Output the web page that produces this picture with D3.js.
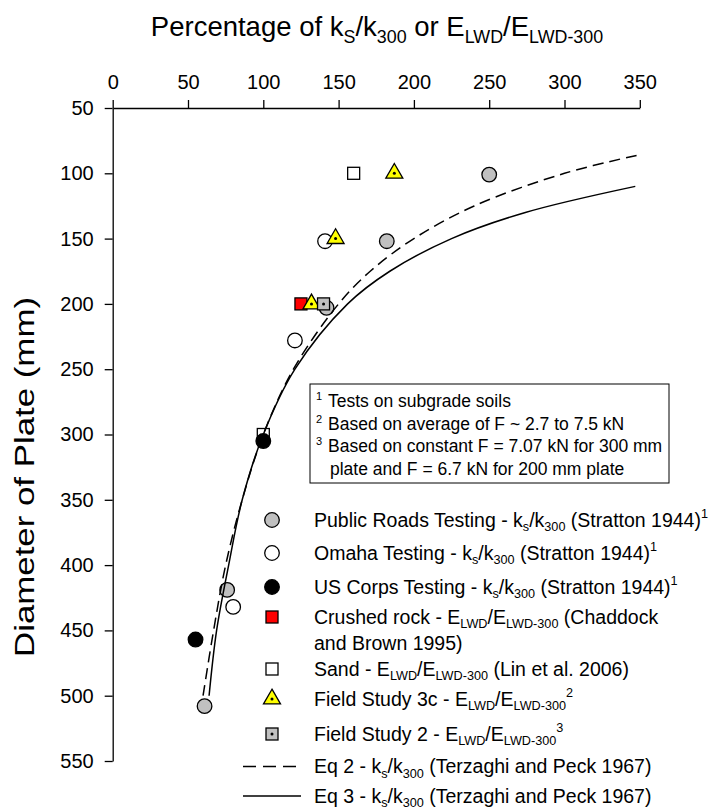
<!DOCTYPE html>
<head>
  <meta charset="utf-8" />
  <script src="https://d3js.org/d3.v7.min.js"></script>
  <style>
    body { margin: 0; background: #fff; }
    text { font-family: "Liberation Sans", Arial, sans-serif; fill: #000; white-space: pre; }
  </style>
</head>
<body>
<div id="chart"></div>
<script>
// points: [percentage, plate diameter mm]
var publicRoads = [[250, 101], [182, 152], [142, 203], [76, 419], [61, 508]];
var omaha = [[141, 152], [121, 228], [80, 432]];
var usCorps = [[100, 305], [55, 457]];
var crushedRock = [[125, 200]];
var sand = [[160, 100], [100, 300]];
var field3c = [[187, 100], [148, 150], [132, 200]];
var field2 = [[140, 200]];

// curves
var eq2Dia = [500, 450, 400, 350, 300, 250, 200, 175, 150, 125, 100, 86];
var eq2Pct = [60, 67, 75, 86, 100, 120, 150, 171, 200, 240, 300, 349];
var eq3Dia = [500, 450, 400, 350, 300, 250, 200, 175, 150, 130, 110];
var eq3Pct = [64, 69, 77, 86, 100, 121, 156, 184, 225, 274, 347];

var xTicks = [0, 50, 100, 150, 200, 250, 300, 350];
var yTicks = [50, 100, 150, 200, 250, 300, 350, 400, 450, 500, 550];

var notes = [
  ["1", "Tests on subgrade soils"],
  ["2", "Based on average of F ~ 2.7 to 7.5 kN"],
  ["3", "Based on constant F = 7.07 kN for 300 mm"],
  ["", "plate and F = 6.7 kN for 200 mm plate"]
];

var legendItems = [
  {sym: "grey", lines: [[["Public Roads Testing - k"], ["s", "sub"], ["/k"], ["300", "sub"], [" (Stratton 1944)"], ["1", "sup"]]]},
  {sym: "open", lines: [[["Omaha Testing - k"], ["s", "sub"], ["/k"], ["300", "sub"], [" (Stratton 1944)"], ["1", "sup"]]]},
  {sym: "black", lines: [[["US Corps Testing - k"], ["s", "sub"], ["/k"], ["300", "sub"], [" (Stratton 1944)"], ["1", "sup"]]]},
  {sym: "red", lines: [[["Crushed rock - E"], ["LWD", "sub"], ["/E"], ["LWD-300", "sub"], [" (Chaddock"]], [["and Brown 1995)"]]]},
  {sym: "sand", lines: [[["Sand - E"], ["LWD", "sub"], ["/E"], ["LWD-300", "sub"], [" (Lin et al. 2006)"]]]},
  {sym: "tri", lines: [[["Field Study 3c - E"], ["LWD", "sub"], ["/E"], ["LWD-300", "sub"], ["2", "sup"]]]},
  {sym: "dotsq", lines: [[["Field Study 2 - E"], ["LWD", "sub"], ["/E"], ["LWD-300", "sub"], ["3", "sup"]]]},
  {sym: "dash", lines: [[["Eq 2 - k"], ["s", "sub"], ["/k"], ["300", "sub"], [" (Terzaghi and Peck 1967)"]]]},
  {sym: "solid", lines: [[["Eq 3 - k"], ["s", "sub"], ["/k"], ["300", "sub"], [" (Terzaghi and Peck 1967)"]]]}
];

var W = 713, H = 809;
var svg = d3.select("#chart").append("svg").attr("width", W).attr("height", H);

var x = d3.scaleLinear().domain([0, 350]).range([112.7, 639.8]);
var y = d3.scaleLinear().domain([50, 550]).range([108, 761]);

// axes
var xAxis = svg.append("g")
  .attr("transform", "translate(0," + y(50) + ")")
  .call(d3.axisTop(x).tickValues(xTicks).tickSize(8).tickSizeOuter(0).tickPadding(11));
var yAxis = svg.append("g")
  .attr("transform", "translate(" + x(0) + ",0)")
  .call(d3.axisLeft(y).tickValues(yTicks).tickSize(8).tickSizeOuter(0).tickPadding(11));
[xAxis, yAxis].forEach(function(a) {
  a.selectAll("path, line").attr("stroke", "#000").attr("stroke-width", 1.3);
  a.selectAll("text").attr("font-size", 20).attr("font-family", "Liberation Sans, Arial, sans-serif").attr("fill", "#000");
});

// rich text helper (subscripts / superscripts)
function rich(g, px, py, parts, size) {
  var t = g.append("text").attr("x", px).attr("y", py).attr("font-size", size);
  var cur = 0;
  parts.forEach(function(p) {
    var k = p[1] || "";
    var off = k === "sub" ? size * 0.25 : k === "sup" ? -size * 0.45 : 0;
    t.append("tspan")
      .attr("dy", off - cur)
      .attr("font-size", k ? size * 0.65 : size)
      .text(p[0]);
    cur = off;
  });
  return t;
}

// titles
rich(svg, 377, 36, [["Percentage of k"], ["S", "sub"], ["/k"], ["300", "sub"], [" or E"], ["LWD", "sub"], ["/E"], ["LWD-300", "sub"]], 27.5)
  .attr("text-anchor", "middle");
svg.append("text")
  .attr("transform", "translate(34,477) rotate(-90)")
  .attr("text-anchor", "middle")
  .attr("font-size", 27)
  .attr("textLength", 360)
  .attr("lengthAdjust", "spacingAndGlyphs")
  .text("Diameter of Plate (mm)");

// curves
var line = d3.line().x(function(d) { return x(d[0]); }).y(function(d) { return y(d[1]); }).curve(d3.curveCatmullRom);
var eq2 = eq2Dia.map(function(d, i) { return [eq2Pct[i], d]; });
var eq3 = eq3Dia.map(function(d, i) { return [eq3Pct[i], d]; });

// symbols
var triPath = d3.symbol().type(d3.symbolTriangle).size(125)();
function sym(g, type, cx, cy) {
  if (type === "grey" || type === "open" || type === "black") {
    g.append("circle").attr("cx", cx).attr("cy", cy).attr("r", 7.3)
      .attr("fill", type === "grey" ? "#c0c0c0" : type === "open" ? "#fff" : "#000")
      .attr("stroke", "#000").attr("stroke-width", 1.3);
  } else if (type === "red" || type === "sand" || type === "dotsq") {
    g.append("rect").attr("x", cx - 6).attr("y", cy - 6).attr("width", 12).attr("height", 12)
      .attr("fill", type === "red" ? "#ff0000" : type === "sand" ? "#fff" : "#c0c0c0")
      .attr("stroke", "#000").attr("stroke-width", 1.3);
    if (type === "dotsq") g.append("circle").attr("cx", cx).attr("cy", cy).attr("r", 1.5).attr("fill", "#000");
  } else if (type === "tri") {
    g.append("path").attr("d", triPath).attr("transform", "translate(" + cx + "," + cy + ")")
      .attr("fill", "#ffff00").attr("stroke", "#000").attr("stroke-width", 1.3);
    g.append("circle").attr("cx", cx).attr("cy", cy).attr("r", 1.5).attr("fill", "#000");
  } else if (type === "dash" || type === "solid") {
    g.append("line").attr("x1", cx - 29).attr("x2", cx + (type === "dash" ? 24 : 29)).attr("y1", cy).attr("y2", cy)
      .attr("stroke", "#000").attr("stroke-width", 1.5)
      .attr("stroke-dasharray", type === "dash" ? "13,7" : null);
  }
}

var pts = svg.append("g");
[[publicRoads, "grey"], [omaha, "open"], [sand, "sand"], [usCorps, "black"],
 [crushedRock, "red"], [field3c, "tri"], [field2, "dotsq"]].forEach(function(s) {
  s[0].forEach(function(d) { sym(pts, s[1], x(d[0]), y(d[1])); });
});

svg.append("path").datum(eq2).attr("d", line).attr("fill", "none")
  .attr("stroke", "#000").attr("stroke-width", 1.5).attr("stroke-dasharray", "11,6");
svg.append("path").datum(eq3).attr("d", line).attr("fill", "none")
  .attr("stroke", "#000").attr("stroke-width", 1.5);

// notes box
var nb = svg.append("g");
nb.append("rect").attr("x", 310).attr("y", 384).attr("width", 359).attr("height", 99)
  .attr("fill", "#fff").attr("stroke", "#000").attr("stroke-width", 1);
notes.forEach(function(n, i) {
  var by = 407 + i * 22.6;
  if (n[0]) nb.append("text").attr("x", 316).attr("y", by - 7).attr("font-size", 11).text(n[0]);
  nb.append("text").attr("x", n[0] ? 328 : 330).attr("y", by).attr("font-size", 17.5).text(n[1]);
});

// legend
var legY = [520, 553, 587, 617, 669, 699, 734, 766.5, 796];
var lg = svg.append("g");
legendItems.forEach(function(item, i) {
  sym(lg, item.sym, 272, legY[i]);
  item.lines.forEach(function(l, j) {
    rich(lg, 314, legY[i] + 6.5 + j * 26.5, l, 19.5);
  });
});
</script>
</body>
</html>
